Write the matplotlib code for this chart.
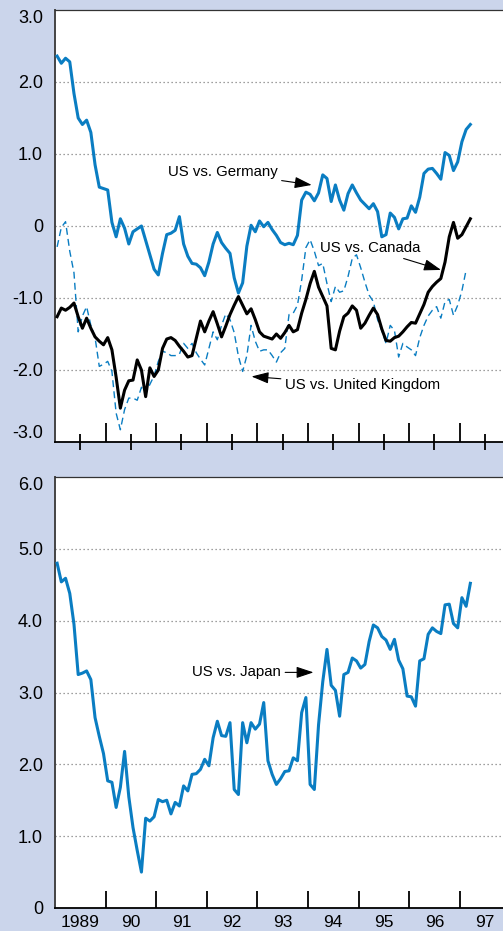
import numpy as np
import matplotlib
matplotlib.use("Agg")
import matplotlib.pyplot as plt
from matplotlib import font_manager

# ---------------- data (monthly, Jan 1989 onward) ----------------
germany = [2.36, 2.26, 2.33, 2.28, 1.84, 1.50, 1.41, 1.47, 1.30, 0.85,
           0.54, 0.52, 0.50, 0.05, -0.15, 0.10, -0.03, -0.25, -0.08, -0.04,
           0.00, -0.20, -0.40, -0.60, -0.68, -0.38, -0.12, -0.10, -0.06, 0.13,
           -0.25, -0.42, -0.52, -0.53, -0.58, -0.69, -0.50, -0.25, -0.09, -0.23,
           -0.31, -0.38, -0.72, -0.93, -0.79, -0.28, 0.01, -0.08, 0.07, -0.01,
           0.05, -0.05, -0.13, -0.23, -0.26, -0.24, -0.26, -0.13, 0.36, 0.47,
           0.44, 0.35, 0.46, 0.71, 0.66, 0.34, 0.57, 0.36, 0.22, 0.45,
           0.57, 0.46, 0.36, 0.30, 0.24, 0.31, 0.20, -0.15, -0.12, 0.18,
           0.12, -0.04, 0.10, 0.11, 0.28, 0.19, 0.40, 0.73, 0.79, 0.80,
           0.73, 0.65, 1.02, 0.98, 0.77, 0.89, 1.17, 1.34, 1.41]

canada = [-1.26, -1.14, -1.17, -1.13, -1.07, -1.26, -1.42, -1.28, -1.42, -1.54,
          -1.60, -1.65, -1.55, -1.72, -2.10, -2.53, -2.28, -2.15, -2.14, -1.86,
          -2.00, -2.37, -1.97, -2.09, -2.00, -1.70, -1.57, -1.55, -1.59, -1.67,
          -1.74, -1.82, -1.80, -1.56, -1.32, -1.47, -1.32, -1.19, -1.36, -1.54,
          -1.39, -1.23, -1.10, -0.98, -1.10, -1.22, -1.15, -1.30, -1.47, -1.53,
          -1.55, -1.57, -1.50, -1.56, -1.48, -1.38, -1.47, -1.44, -1.21, -1.02,
          -0.80, -0.63, -0.85, -0.98, -1.11, -1.70, -1.72, -1.46, -1.26, -1.21,
          -1.11, -1.17, -1.42, -1.35, -1.24, -1.14, -1.23, -1.43, -1.59, -1.60,
          -1.55, -1.53, -1.47, -1.40, -1.34, -1.35, -1.22, -1.09, -0.92, -0.84,
          -0.78, -0.73, -0.50, -0.15, 0.05, -0.17, -0.12, -0.01, 0.10]

uk = [-0.29, -0.02, 0.06, -0.35, -0.65, -1.47, -1.25, -1.12, -1.38, -1.55,
      -1.95, -1.92, -1.88, -2.02, -2.60, -2.83, -2.55, -2.39, -2.39, -2.42,
      -2.24, -2.33, -2.20, -2.08, -1.88, -1.74, -1.76, -1.80, -1.80, -1.78,
      -1.63, -1.70, -1.63, -1.76, -1.85, -1.93, -1.70, -1.47, -1.58, -1.38,
      -1.22, -1.30, -1.48, -1.81, -2.02, -1.80, -1.38, -1.60, -1.74, -1.72,
      -1.72, -1.80, -1.89, -1.76, -1.70, -1.23, -1.21, -1.10, -0.75, -0.30,
      -0.19, -0.35, -0.55, -0.52, -0.80, -1.05, -0.84, -0.92, -0.90, -0.70,
      -0.45, -0.40, -0.58, -0.78, -0.96, -1.05, -1.30, -1.45, -1.63, -1.38,
      -1.45, -1.82, -1.63, -1.68, -1.72, -1.80, -1.55, -1.38, -1.25, -1.17,
      -1.12, -1.28, -1.05, -1.02, -1.24, -1.10, -0.90, -0.61]

japan = [4.80, 4.54, 4.59, 4.38, 3.95, 3.25, 3.27, 3.30, 3.18, 2.65,
         2.39, 2.15, 1.77, 1.75, 1.40, 1.68, 2.18, 1.55, 1.12, 0.80,
         0.50, 1.25, 1.21, 1.27, 1.51, 1.48, 1.50, 1.31, 1.47, 1.42,
         1.70, 1.63, 1.86, 1.87, 1.93, 2.07, 1.98, 2.37, 2.60, 2.40,
         2.39, 2.58, 1.65, 1.58, 2.58, 2.30, 2.58, 2.49, 2.56, 2.86,
         2.05, 1.86, 1.72, 1.80, 1.90, 1.91, 2.09, 2.05, 2.72, 2.93,
         1.72, 1.65, 2.55, 3.15, 3.60, 3.10, 3.03, 2.67, 3.25, 3.28,
         3.48, 3.44, 3.34, 3.39, 3.71, 3.94, 3.90, 3.78, 3.73, 3.60,
         3.74, 3.45, 3.33, 2.95, 2.94, 2.81, 3.44, 3.47, 3.81, 3.90,
         3.85, 3.82, 4.22, 4.23, 3.96, 3.90, 4.32, 4.20, 4.52]

start_year = 1989
year_bounds = [1990, 1991, 1992, 1993, 1994, 1995, 1996, 1997]
year_labels = ["1989", "90", "91", "92", "93", "94", "95", "96", "97"]
top_yticks = [3, 2, 1, 0, -1, -2, -3]
top_ylabels = ["3.0", "2.0", "1.0", "0", "-1.0", "-2.0", "-3.0"]
bot_yticks = [6, 5, 4, 3, 2, 1, 0]
bot_ylabels = ["6.0", "5.0", "4.0", "3.0", "2.0", "1.0", "0"]


def month_axis(n):
    return start_year + (np.arange(n) + 0.5) / 12.0


# ---------------- style ----------------
BG = "#cbd5eb"
BLUE = "#0a7dc2"
W, H = 503, 931

names = {f.name for f in font_manager.fontManager.ttflist}
if "Liberation Sans Narrow" in names:
    ann_font = dict(family="Liberation Sans Narrow", size=13.2)
else:
    ann_font = dict(family="Liberation Sans", size=10.8)
plt.rcParams["font.family"] = ["Liberation Sans", "DejaVu Sans"]

fig = plt.figure(figsize=(W / 100, H / 100), dpi=100)
fig.patch.set_facecolor(BG)

left = 55 / W
width = 452 / W
ax1 = fig.add_axes([left, 1 - 442 / H, width, 432 / H])
ax2 = fig.add_axes([left, 1 - 908 / H, width, 431 / H])

xmin = 1989.0
xmax = 1989.0 + 452 / 50.6

for ax in (ax1, ax2):
    ax.set_facecolor("white")
    ax.set_xlim(xmin, xmax)
    ax.spines["right"].set_visible(False)
    ax.spines["left"].set_color("#444444")
    ax.spines["left"].set_linewidth(1.4)
    ax.spines["top"].set_color("#333333")
    ax.spines["top"].set_linewidth(0.9)
    ax.spines["bottom"].set_color("black")
    ax.spines["bottom"].set_linewidth(1.3)
    ax.tick_params(axis="y", length=0, pad=8.6, labelsize=13)
    ax.set_xticks(year_bounds)
    ax.set_xticklabels([])

# ---------------- top panel ----------------
ax1.set_ylim(-3, 3)
ax1.set_yticks(top_yticks)
ax1.set_yticklabels(top_ylabels)
for v in [2, 1, 0, -1, -2]:
    ax1.axhline(v, color="#808080", lw=0.9, ls=(0, (1, 2.2)), zorder=1)
ax1.tick_params(axis="x", which="major", direction="in", length=13.5, width=1.3,
                color="black")
ax1.set_xticks([y + 0.5 for y in range(1989, 1998)], minor=True)
ax1.tick_params(axis="x", which="minor", direction="inout", length=11, width=1.3,
                color="black")
labs = ax1.get_yticklabels()
labs[0].set_va("top")
labs[-1].set_va("bottom")

ax1.plot(month_axis(len(uk)), uk, color=BLUE, lw=1.0, ls=(0, (5, 3)), zorder=3)
ax1.plot(month_axis(len(canada)), canada, color="black", lw=2.2, zorder=4)
ax1.plot(month_axis(len(germany)), germany, color=BLUE, lw=2.2, zorder=5)

arrow = dict(arrowstyle="-|>,head_length=0.75,head_width=0.25", mutation_scale=14,
             color="black", lw=0.8, shrinkA=1, shrinkB=0)


def px2x(px):
    return 1989.0 + (px - 55) / 50.6


ax1.annotate("US vs. Germany", xy=(px2x(311.7), 0.57), xytext=(px2x(277.5), 0.75),
             ha="right", va="center", arrowprops=arrow, zorder=6, **ann_font)
ax1.annotate("US vs. Canada", xy=(px2x(441), -0.61), xytext=(px2x(420.5), -0.31),
             ha="right", va="center", arrowprops=arrow, zorder=6, **ann_font)
ax1.annotate("US vs. United Kingdom", xy=(px2x(251.5), -2.09),
             xytext=(px2x(285), -2.21), ha="left", va="center",
             arrowprops=arrow, zorder=6, **ann_font)

# ---------------- bottom panel ----------------
ax2.set_ylim(0, 6)
ax2.set_yticks(bot_yticks)
ax2.set_yticklabels(bot_ylabels)
for v in [5, 4, 3, 2, 1]:
    ax2.axhline(v, color="#808080", lw=0.9, ls=(0, (1, 2.2)), zorder=1)
ax2.tick_params(axis="x", which="major", direction="in", length=12, width=1.3,
                color="black")
ax2.set_xticks([y + 0.5 for y in range(1989, 1998)], minor=True)
ax2.set_xticklabels(year_labels, minor=True)
ax2.tick_params(axis="x", which="minor", length=0, pad=5, labelsize=12.5)
ax2.get_yticklabels()[0].set_va("top")

ax2.plot(month_axis(len(japan)), japan, color=BLUE, lw=2.2, zorder=5)
ax2.annotate("US vs. Japan", xy=(px2x(313.5), 3.28), xytext=(px2x(281), 3.28),
             ha="right", va="center", arrowprops=arrow, zorder=6, **ann_font)

fig.savefig("out.png", dpi=100, facecolor=BG)
